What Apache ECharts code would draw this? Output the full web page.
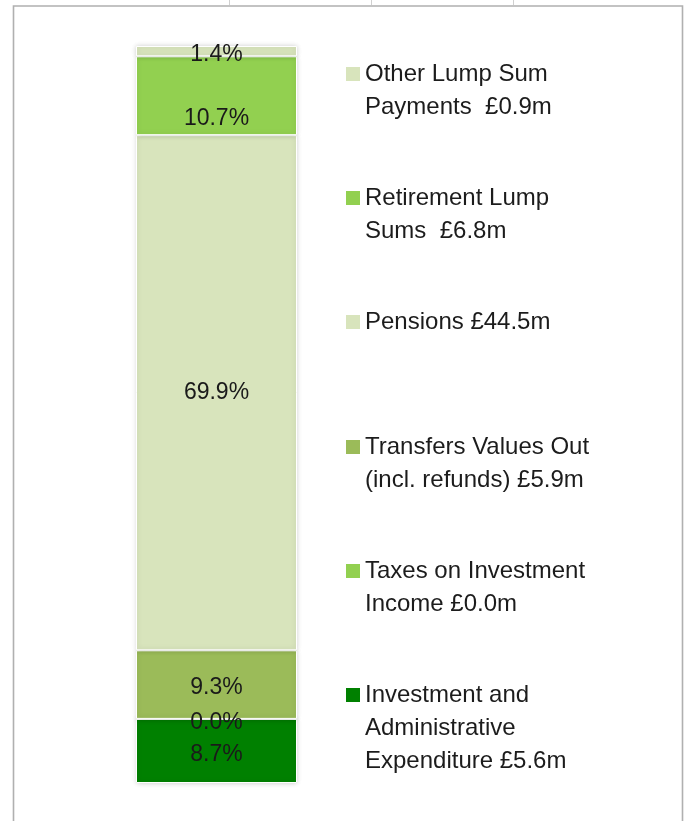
<!DOCTYPE html>
<html><head><meta charset="utf-8">
<script src="https://cdn.jsdelivr.net/npm/echarts@6/dist/echarts.min.js"></script>
<style>html,body{margin:0;padding:0;background:#fff}#c{width:684px;height:821px}</style>
</head><body><div id="c"></div>
<script>
// ---- data ----
const categories = ['Fund expenditure'];
const seriesNames = [
  'Investment and\nAdministrative\nExpenditure £5.6m',
  'Taxes on Investment\nIncome £0.0m',
  'Transfers Values Out\n(incl. refunds) £5.9m',
  'Pensions £44.5m',
  'Retirement Lump\nSums  £6.8m',
  'Other Lump Sum\nPayments  £0.9m'
];
const sharePct = [8.7, 0.0, 9.3, 69.9, 10.7, 1.4];

// ---- styles ----
const colors = ['#008000', '#92d050', '#9bbb59', '#d8e4bc', '#92d050', '#d8e4bc'];
const labelOffsets = [[0, 4], [0, 4], [0, 3], [0, 0], [0, 23], [0, 3]];
const legendCenters = [695, 571, 447, 322, 198, 74];
const FONT = 'Liberation Sans';
const LH = 33;

const chart = echarts.init(document.getElementById('c'), null, {renderer: 'canvas'});
chart.setOption({
  animation: false,
  backgroundColor: '#ffffff',
  grid: {left: 136, width: 161, top: 46, height: 737},
  xAxis: {type: 'category', data: categories, show: false},
  yAxis: {type: 'value', min: 0, max: 100, show: false},
  legend: seriesNames.map((name, i) => {
    const n = name.split('\n').length;
    return {
      data: [name], orient: 'vertical', left: 346,
      top: legendCenters[i] - (2 * n - 1) * LH / 2,
      padding: 0, itemWidth: 14, itemHeight: 14, itemGap: 0, icon: 'rect',
      selectedMode: false,
      itemStyle: {borderWidth: 0, shadowBlur: 0},
      // prepend blank lines so the first text line sits level with the marker
      formatter: nm => ' \n'.repeat(n - 1) + nm,
      textStyle: {fontFamily: FONT, fontSize: 24, color: '#1c1c1c', lineHeight: LH}
    };
  }),
  series: seriesNames.map((name, i) => ({
    name: name, type: 'bar', stack: 'total', barWidth: '100%',
    data: [sharePct[i]],
    itemStyle: {color: colors[i], borderColor: '#ffffff', borderWidth: 1,
      shadowBlur: 5, shadowColor: 'rgba(0,0,0,0.18)'},
    label: {show: true, position: 'inside', offset: labelOffsets[i],
      formatter: p => p.value.toFixed(1) + '%',
      color: '#1a1a1a', fontSize: 23, fontFamily: FONT}
  })),
  graphic: [
    {type: 'rect', silent: true, z: -1,
      shape: {x: 13.5, y: 6, width: 669, height: 900},
      style: {fill: 'none', stroke: '#b0b0b0', lineWidth: 1.6}},
    {type: 'line', silent: true, shape: {x1: 229.5, y1: 0, x2: 229.5, y2: 5}, style: {stroke: '#d0d0d0', lineWidth: 1}},
    {type: 'line', silent: true, shape: {x1: 371.5, y1: 0, x2: 371.5, y2: 5}, style: {stroke: '#d0d0d0', lineWidth: 1}},
    {type: 'line', silent: true, shape: {x1: 513.5, y1: 0, x2: 513.5, y2: 5}, style: {stroke: '#d0d0d0', lineWidth: 1}}
  ]
});
</script></body></html>
